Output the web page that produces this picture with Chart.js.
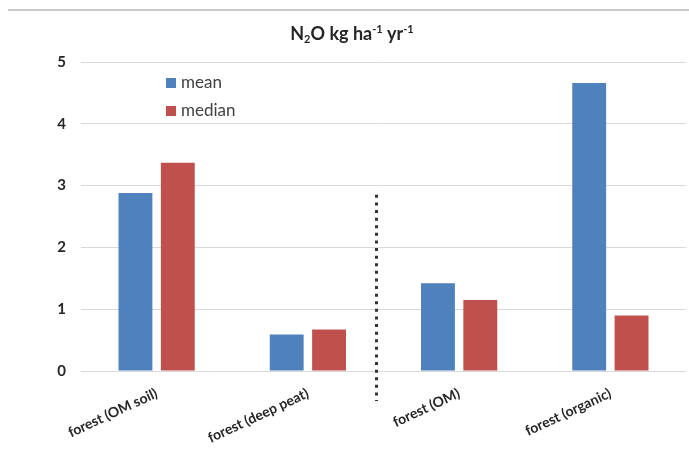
<!DOCTYPE html>
<html>
<head>
<meta charset="utf-8">
<title>N2O kg ha-1 yr-1</title>
<script src="https://cdn.jsdelivr.net/npm/chart.js@4.4.1/dist/chart.umd.min.js"></script>
<style>
  html, body { margin: 0; padding: 0; background: #fff; }
  #wrap { width: 689px; height: 451px; }
</style>
</head>
<body>
<div id="wrap"><canvas id="grafico" width="689" height="451"></canvas></div>
<script>
// === DADOS ===
const categorias = ["forest (OM soil)", "forest (deep peat)", "forest (OM)", "forest (organic)"];
const valoresMean = [2.88, 0.59, 1.42, 4.66];
const valoresMedian = [3.37, 0.67, 1.15, 0.90];
const ticksY = [0, 1, 2, 3, 4, 5];

// linha pontilhada entre os dois grupos (posição em unidades de categoria / eixo y)
const divisorX = 1.45;
const divisorTopo = 2.85;

// título com sub/sobrescritos: [texto, tipo]
const tituloPartes = [["N", ""], ["2", "sub"], ["O kg ha", ""], ["-1", "sup"], [" yr", ""], ["-1", "sup"]];

const FONTE = "Lato, 'Open Sans', sans-serif";

// === PLUGIN: moldura, título, divisor, legenda ===
const extras = {
  id: "extras",
  beforeDraw(chart) {
    const c = chart.ctx;
    c.save();
    c.fillStyle = "#c8c8c8";
    c.fillRect(8, 9, chart.width - 8, 2);
    c.restore();
  },
  afterDraw(chart) {
    const c = chart.ctx;
    const { x, y } = chart.scales;
    c.save();

    // título
    const fN = "bold 18px " + FONTE;
    const fP = "bold 11px " + FONTE;
    let total = 0;
    tituloPartes.forEach(([t, tipo]) => {
      c.font = tipo ? fP : fN;
      total += c.measureText(t).width;
    });
    let px = 352 - total / 2;
    const base = 40;
    c.fillStyle = "#262626";
    c.textBaseline = "alphabetic";
    tituloPartes.forEach(([t, tipo]) => {
      c.font = tipo ? fP : fN;
      const dy = tipo === "sub" ? 3 : tipo === "sup" ? -7 : 0;
      c.fillText(t, px, base + dy);
      px += c.measureText(t).width;
    });

    // divisor pontilhado
    const dx = Math.round(x.getPixelForValue(divisorX)) + 0.5;
    c.strokeStyle = "#333";
    c.lineWidth = 3;
    c.setLineDash([3, 4.6]);
    c.beginPath();
    c.moveTo(dx, y.getPixelForValue(divisorTopo));
    c.lineTo(dx, chart.chartArea.bottom + 30);
    c.stroke();
    c.setLineDash([]);

    // legenda
    c.font = "17px " + FONTE;
    c.textBaseline = "middle";
    chart.data.datasets.forEach((ds, i) => {
      const ly = 83 + i * 28;
      c.fillStyle = ds.backgroundColor;
      c.fillRect(166, ly - 5, 10, 10);
      c.fillStyle = "#404040";
      c.fillText(ds.label, 181, ly);
    });
    c.restore();
  }
};

const ctx = document.getElementById("grafico").getContext("2d");
new Chart(ctx, {
  type: "bar",
  data: {
    labels: categorias,
    datasets: [
      { label: "mean", data: valoresMean, backgroundColor: "#4f81bd" },
      { label: "median", data: valoresMedian, backgroundColor: "#c0504d" }
    ]
  },
  options: {
    responsive: false,
    animation: false,
    devicePixelRatio: 1,
    categoryPercentage: 0.56,
    barPercentage: 0.8,
    layout: { padding: { left: 0, top: 62, right: 3, bottom: 0 } },
    plugins: {
      legend: { display: false },
      title: { display: false },
      tooltip: { enabled: false }
    },
    scales: {
      x: {
        grid: { display: false },
        border: { display: false },
        ticks: {
          color: "#262626",
          font: { family: FONTE, size: 14, weight: "bold" },
          minRotation: 25,
          maxRotation: 25,
          padding: 6
        },
        afterFit: (s) => { s.height = 80; }
      },
      y: {
        min: 0,
        max: 5,
        afterBuildTicks: (s) => { s.ticks = ticksY.map((v) => ({ value: v })); },
        grid: { color: "#d9d9d9", drawTicks: false },
        border: { display: false },
        ticks: {
          color: "#262626",
          font: { family: FONTE, size: 15, weight: "bold" },
          padding: 15
        },
        afterFit: (s) => { s.width = 81; }
      }
    }
  },
  plugins: [extras]
});
</script>
</body>
</html>
